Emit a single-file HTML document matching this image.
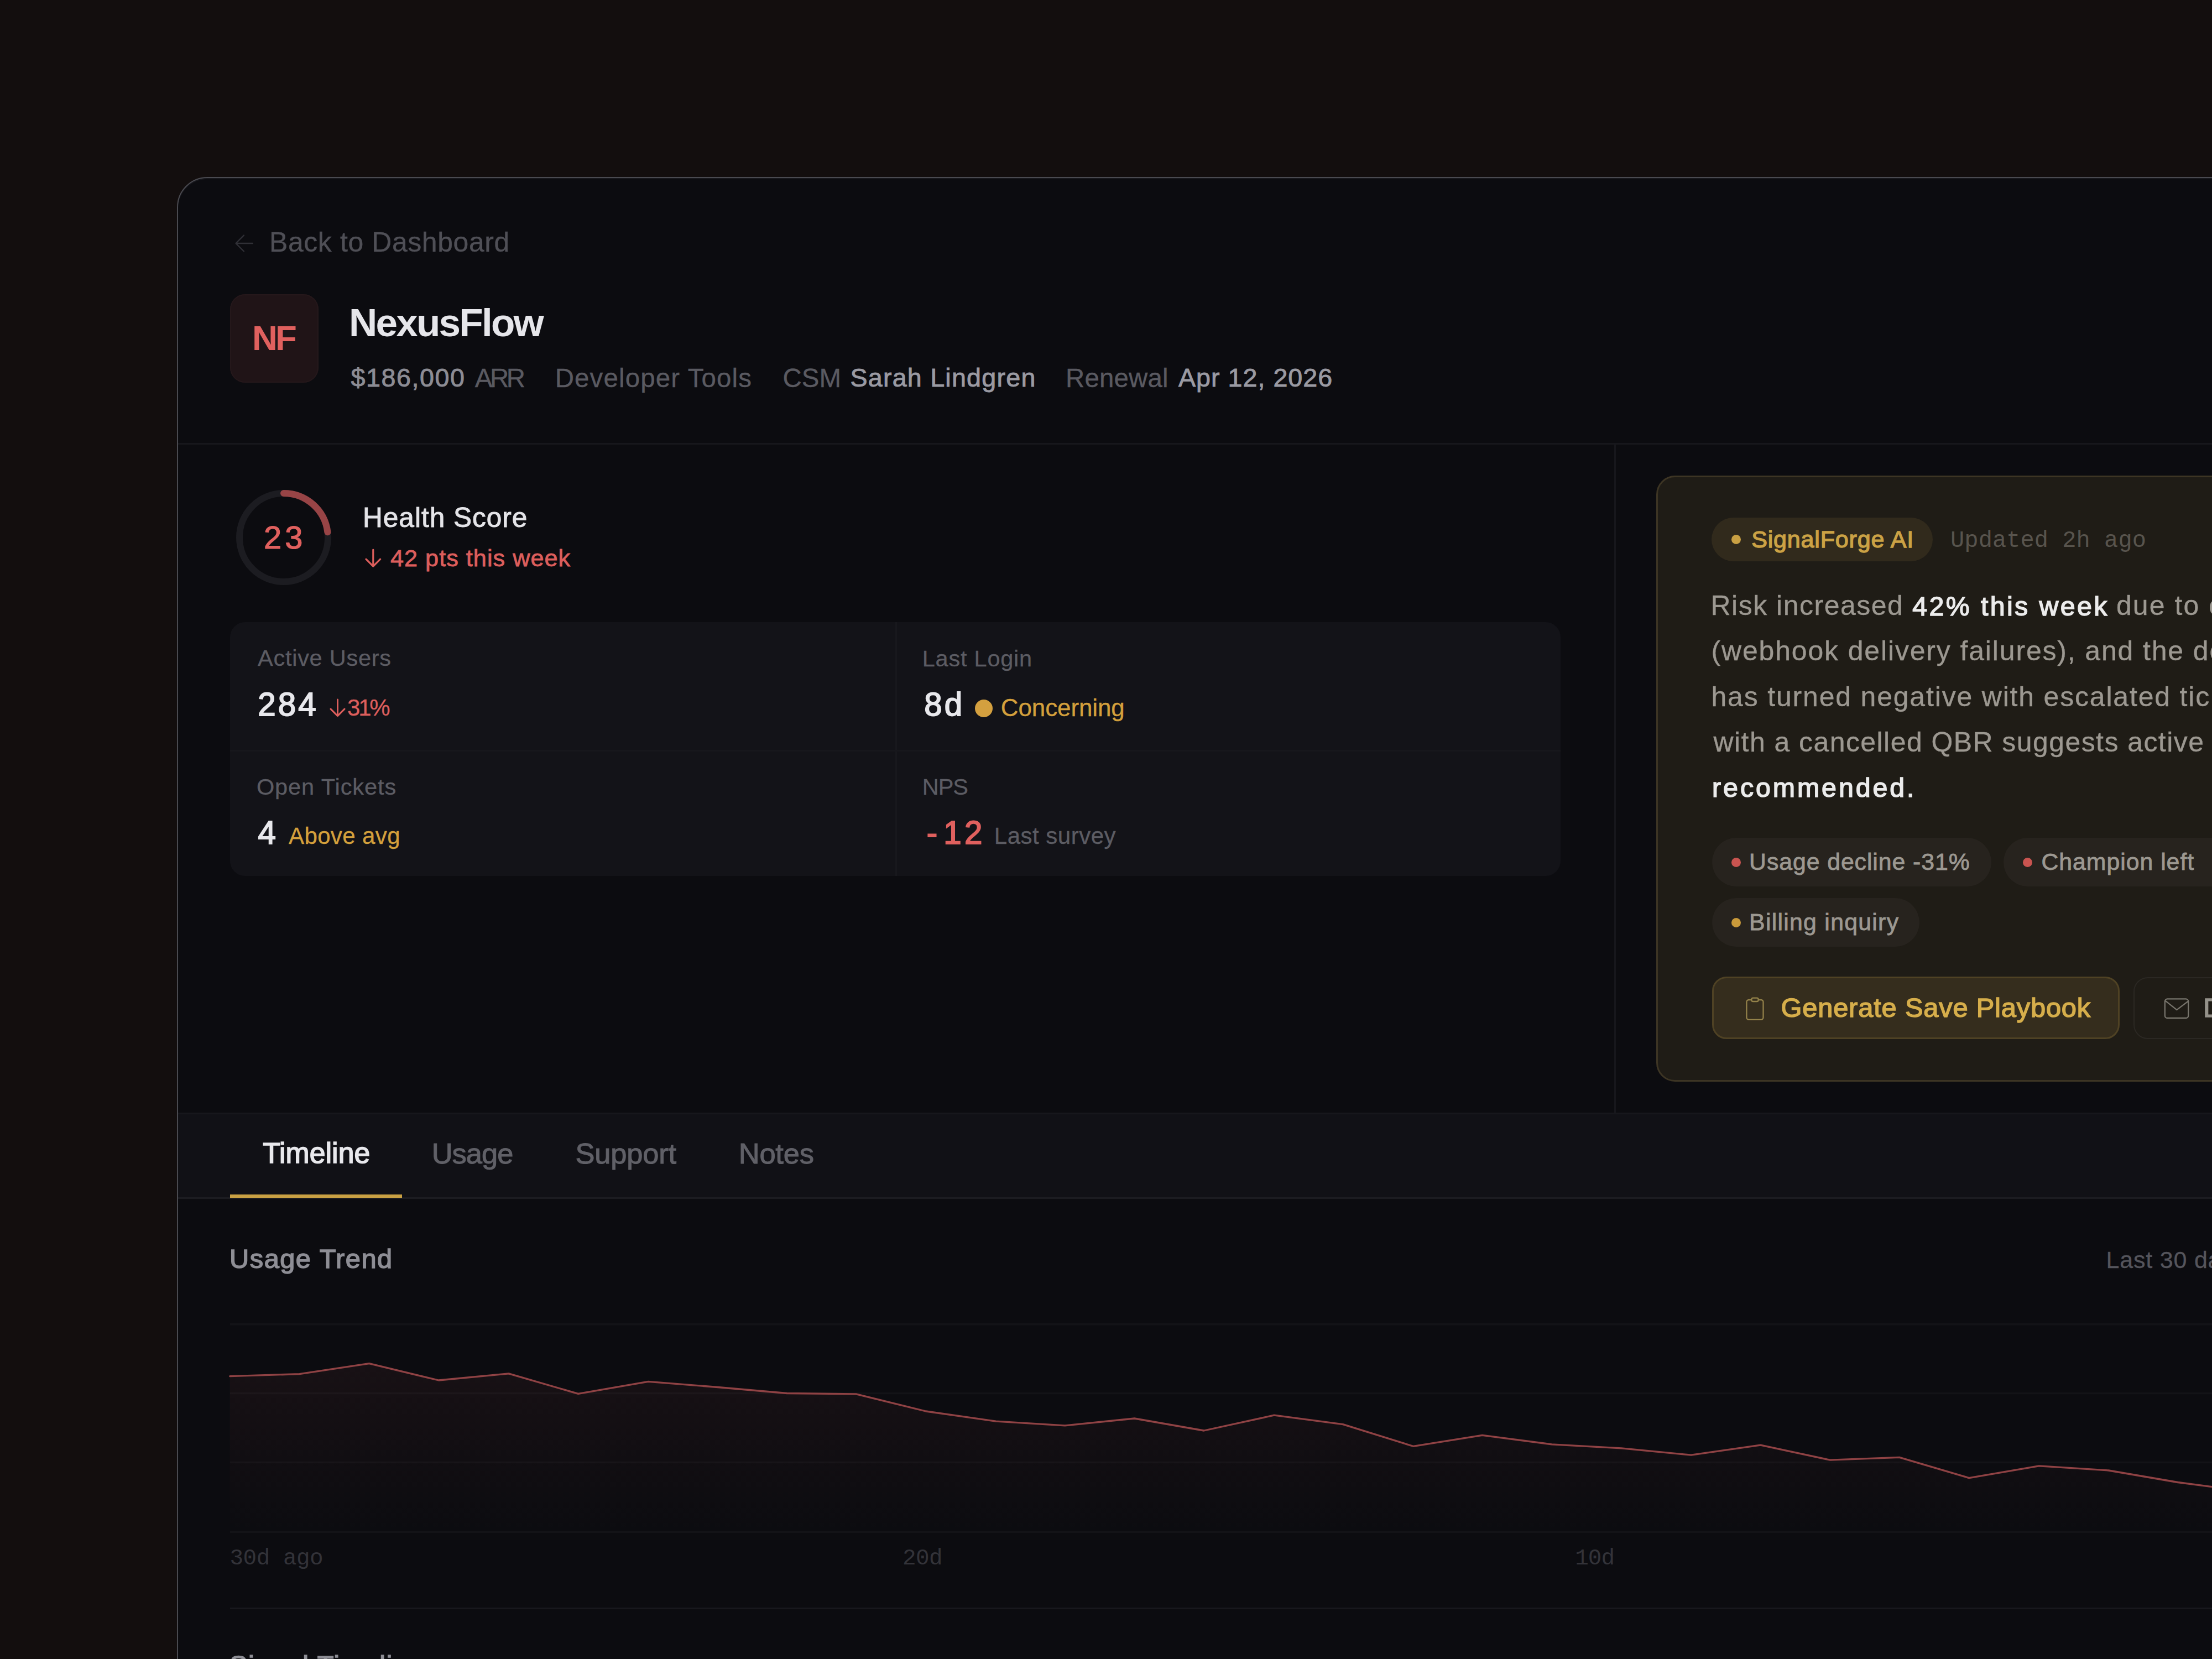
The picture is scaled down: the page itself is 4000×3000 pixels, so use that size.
<!DOCTYPE html>
<html lang="en"><head><meta charset="utf-8"><title>NexusFlow – Account Health</title>
<style>
*{margin:0;padding:0;box-sizing:border-box}
html,body{width:4000px;height:3000px;overflow:hidden}
body{background:#130e0e;font-family:'Liberation Sans',Arial,sans-serif;position:relative}
.t{position:absolute;white-space:nowrap;line-height:1}
.card{position:absolute;left:320px;top:320px;width:3800px;height:2900px;background:#0c0c10;border:2px solid #4a4a50;border-radius:55px;box-shadow:inset 0 2px 0 #17171c}
.hline{position:absolute;height:3px;background:#17171c}
.vline{position:absolute;width:3px;background:#17171c}
.pill{position:absolute;border-radius:999px}
.dot{position:absolute;border-radius:50%}
</style></head>
<body>
<div class="card"></div>
<svg style="position:absolute;left:420px;top:418px" width="44" height="44" viewBox="0 0 44 44" fill="none" stroke="#303036" stroke-width="2.3" stroke-linecap="round" stroke-linejoin="round"><path d="M37 22H7M21 7.5L6.5 22 21 36.5"/></svg>
<div class="t" id="back" style="left:487.0px;top:413.6px;font-size:49.92px;color:#4f4f56;-webkit-text-stroke:0.40px #4f4f56;letter-spacing:0.62px;">Back to Dashboard</div>
<div style="position:absolute;left:416px;top:532px;width:160px;height:160px;border-radius:27px;background:#201417;box-shadow:inset 0 0 0 2px #25181b"></div>
<div class="t" id="nf" style="left:456.1px;top:580.3px;font-size:63.5px;color:#e0605e;font-weight:700;letter-spacing:-4.00px;">NF</div>
<div class="t" id="title" style="left:631.0px;top:548.0px;font-size:71px;color:#e6e6ea;font-weight:700;letter-spacing:-2.75px;">NexusFlow</div>
<div class="t" id="m1" style="left:634.5px;top:660.1px;font-size:46.65px;color:#8c8c94;-webkit-text-stroke:0.93px #8c8c94;letter-spacing:1.57px;">$186,000</div>
<div class="t" id="m2" style="left:858.8px;top:659.7px;font-size:47.45px;color:#5a5a61;-webkit-text-stroke:0.38px #5a5a61;letter-spacing:-4.50px;">ARR</div>
<div class="t" id="m3" style="left:1003.7px;top:659.7px;font-size:47.45px;color:#5a5a61;-webkit-text-stroke:0.38px #5a5a61;letter-spacing:1.14px;">Developer Tools</div>
<div class="t" id="m4" style="left:1415.6px;top:659.7px;font-size:47.45px;color:#5a5a61;-webkit-text-stroke:0.38px #5a5a61;">CSM</div>
<div class="t" id="m5" style="left:1537.4px;top:660.1px;font-size:46.65px;color:#9a9aa2;-webkit-text-stroke:0.93px #9a9aa2;letter-spacing:1.23px;">Sarah Lindgren</div>
<div class="t" id="m6" style="left:1927.0px;top:659.7px;font-size:47.45px;color:#5a5a61;-webkit-text-stroke:0.38px #5a5a61;letter-spacing:0.16px;">Renewal</div>
<div class="t" id="m7" style="left:2131.0px;top:660.1px;font-size:46.65px;color:#9a9aa2;-webkit-text-stroke:0.93px #9a9aa2;letter-spacing:1.01px;">Apr 12, 2026</div>
<div class="hline" style="left:322px;top:801px;width:3700px"></div>
<div class="vline" style="left:2919px;top:804px;height:1209px"></div>
<svg style="position:absolute;left:423px;top:882px" width="180" height="180" viewBox="0 0 180 180"><circle cx="90" cy="90" r="80" fill="none" stroke="#1c1c21" stroke-width="12"/><circle cx="90" cy="90" r="80" fill="none" stroke="#984446" stroke-width="12" stroke-linecap="round" stroke-dasharray="115.6 502.7" transform="rotate(-90 90 90)"/></svg>
<div class="t" id="n23" style="left:477.1px;top:943.6px;font-size:57.82px;color:#e0605e;-webkit-text-stroke:1.16px #e0605e;letter-spacing:6.00px;">23</div>
<div class="t" id="hs" style="left:656.0px;top:912.0px;font-size:49.56px;color:#e4e4e8;-webkit-text-stroke:0.99px #e4e4e8;letter-spacing:1.00px;">Health Score</div>
<svg style="position:absolute;left:657.6px;top:989.5px" width="33.6" height="38.0" viewBox="0 0 33.6 38.0" fill="none" stroke="#dc5e5c" stroke-width="3.2" stroke-linecap="round" stroke-linejoin="round"><path d="M16.8 4 V34.0 M4 21.2 L16.8 34.0 L29.6 21.2"/></svg>
<div class="t" id="pts" style="left:706.0px;top:987.7px;font-size:43.25px;color:#dc5e5c;-webkit-text-stroke:0.86px #dc5e5c;letter-spacing:1.00px;">42 pts this week</div>
<div style="position:absolute;left:416px;top:1125px;width:2406px;height:459px;border-radius:27px;background:#131318;overflow:hidden"><div style="position:absolute;left:1202.5px;top:0;width:3.5px;height:459px;background:#18181d"></div><div style="position:absolute;left:0;top:230.5px;width:2406px;height:3.5px;background:#17171c"></div></div>
<div class="t" id="au" style="left:466.0px;top:1169.2px;font-size:41.52px;color:#5c5c63;-webkit-text-stroke:0.33px #5c5c63;letter-spacing:0.73px;">Active Users</div>
<div class="t" id="v284" style="left:466.3px;top:1244.8px;font-size:58.3px;color:#e8e8ec;-webkit-text-stroke:1.87px #e8e8ec;letter-spacing:4.00px;">284</div>
<svg style="position:absolute;left:593.8px;top:1260.8px" width="33.0" height="37.6" viewBox="0 0 33.0 37.6" fill="none" stroke="#dc5e5c" stroke-width="3" stroke-linecap="round" stroke-linejoin="round"><path d="M16.5 4 V33.6 M4 21.1 L16.5 33.6 L29.0 21.1"/></svg>
<div class="t" id="p31" style="left:628.1px;top:1259.0px;font-size:42.01px;color:#dc5e5c;-webkit-text-stroke:0.34px #dc5e5c;letter-spacing:-3.30px;">31%</div>
<div class="t" id="ll" style="left:1667.7px;top:1170.1px;font-size:41.52px;color:#5c5c63;-webkit-text-stroke:0.33px #5c5c63;letter-spacing:0.77px;">Last Login</div>
<div class="t" id="v8d" style="left:1671.3px;top:1244.8px;font-size:58.3px;color:#e8e8ec;-webkit-text-stroke:1.87px #e8e8ec;letter-spacing:4.00px;">8d</div>
<div class="dot" style="left:1763px;top:1265px;width:32px;height:32px;background:#d4a03f"></div>
<div class="t" id="conc" style="left:1809.8px;top:1258.4px;font-size:43.99px;color:#d4a03c;-webkit-text-stroke:0.35px #d4a03c;letter-spacing:-0.11px;">Concerning</div>
<div class="t" id="ot" style="left:463.9px;top:1401.8px;font-size:41.52px;color:#5c5c63;-webkit-text-stroke:0.33px #5c5c63;letter-spacing:0.91px;">Open Tickets</div>
<div class="t" id="v4" style="left:466.4px;top:1476.9px;font-size:58.3px;color:#e8e8ec;-webkit-text-stroke:1.87px #e8e8ec;">4</div>
<div class="t" id="abv" style="left:522.0px;top:1491.4px;font-size:42.01px;color:#d4a03c;-webkit-text-stroke:0.34px #d4a03c;letter-spacing:0.38px;">Above avg</div>
<div class="t" id="nps" style="left:1667.7px;top:1401.5px;font-size:41.52px;color:#5c5c63;-webkit-text-stroke:0.33px #5c5c63;letter-spacing:-1.00px;">NPS</div>
<div class="t" id="m12a" style="left:1675.8px;top:1476.9px;font-size:58.3px;color:#e0605e;-webkit-text-stroke:1.87px #e0605e;">-</div>
<div class="t" id="m12" style="left:1706.3px;top:1476.9px;font-size:58.3px;color:#e0605e;-webkit-text-stroke:1.87px #e0605e;letter-spacing:5.20px;">12</div>
<div class="t" id="lsv" style="left:1797.8px;top:1491.4px;font-size:42.01px;color:#5c5c63;-webkit-text-stroke:0.34px #5c5c63;letter-spacing:0.50px;">Last survey</div>
<div style="position:absolute;left:2995px;top:860px;width:1300px;height:1096px;border-radius:34px;background:#1f1c16;border:3px solid #3d3524"></div>
<div class="pill" style="left:3095px;top:936px;width:400px;height:79px;background:#312a1c"></div>
<div class="dot" style="left:3130.5px;top:966.5px;width:17px;height:17px;background:#c9a043"></div>
<div class="t" id="sf" style="left:3167.2px;top:954.0px;font-size:43.01px;color:#cba245;-webkit-text-stroke:1.38px #cba245;letter-spacing:0.84px;">SignalForge AI</div>
<div class="t" id="upd" style="left:3527.1px;top:956.8px;font-size:42px;color:#58544d;letter-spacing:0.07px;font-family:'Liberation Mono', 'DejaVu Sans Mono', monospace;">Updated 2h ago</div>
<div class="t" id="p1a" style="left:3093.5px;top:1070.8px;font-size:49.92px;color:#9c9891;-webkit-text-stroke:0.40px #9c9891;letter-spacing:1.54px;">Risk increased</div>
<div class="t" id="p1b" style="left:3458.3px;top:1071.6px;font-size:48.26px;color:#ececec;-webkit-text-stroke:1.54px #ececec;letter-spacing:3.41px;">42% this week</div>
<div class="t" id="p1c" style="left:3826.9px;top:1070.8px;font-size:49.92px;color:#9c9891;-webkit-text-stroke:0.40px #9c9891;letter-spacing:2.12px;"><span id="p1cs">due to</span> critical support escalations</div>
<div class="t" id="p2" style="left:3094.5px;top:1153.2px;font-size:49.92px;color:#9c9891;-webkit-text-stroke:0.40px #9c9891;letter-spacing:1.88px;"><span id="p2s">(webhook delivery failures), and the</span> departure of your executive sponsor. Sentiment</div>
<div class="t" id="p3" style="left:3094.5px;top:1235.6px;font-size:49.92px;color:#9c9891;-webkit-text-stroke:0.40px #9c9891;letter-spacing:1.85px;"><span id="p3s">has turned negative with escalated</span> tickets and slow responses. Combined</div>
<div class="t" id="p4" style="left:3098.5px;top:1317.5px;font-size:49.92px;color:#9c9891;-webkit-text-stroke:0.40px #9c9891;letter-spacing:1.47px;"><span id="p4s">with a cancelled QBR suggests active</span> evaluation of competitors. Outreach</div>
<div class="t" id="p5" style="left:3096.1px;top:1400.2px;font-size:48.26px;color:#ececec;-webkit-text-stroke:1.54px #ececec;letter-spacing:3.96px;">recommended.</div>
<div class="pill" style="left:3096px;top:1515px;width:505px;height:88px;background:#27231e"></div>
<div class="dot" style="left:3131px;top:1551px;width:17px;height:17px;background:#c95450"></div>
<div class="t" id="tg1" style="left:3163.1px;top:1536.6px;font-size:42.76px;color:#9c9891;-webkit-text-stroke:0.86px #9c9891;letter-spacing:0.94px;">Usage decline -31%</div>
<div class="pill" style="left:3623px;top:1515px;width:520px;height:88px;background:#27231e"></div>
<div class="dot" style="left:3658px;top:1551px;width:17px;height:17px;background:#c95450"></div>
<div class="t" id="tg2" style="left:3691.4px;top:1536.6px;font-size:42.76px;color:#9c9891;-webkit-text-stroke:0.86px #9c9891;letter-spacing:1.00px;">Champion left</div>
<div class="pill" style="left:3096px;top:1624px;width:375px;height:88px;background:#27231e"></div>
<div class="dot" style="left:3131px;top:1660px;width:17px;height:17px;background:#c99a3a"></div>
<div class="t" id="tg3" style="left:3163.1px;top:1645.6px;font-size:42.76px;color:#9c9891;-webkit-text-stroke:0.86px #9c9891;letter-spacing:1.29px;">Billing inquiry</div>
<div style="position:absolute;left:3096px;top:1766px;width:737px;height:113px;border-radius:26px;background:#352d1d;border:3px solid #4f4224"></div>
<svg style="position:absolute;left:3150px;top:1798px" width="46" height="50" viewBox="0 0 46 50" fill="none" stroke="#94824a" stroke-width="2.3" stroke-linejoin="round"><rect x="8.4" y="10" width="30.1" height="35.8" rx="4"/><rect x="17.4" y="6.6" width="12.2" height="6.4" rx="2.6" fill="#352d1d"/></svg>
<div class="t" id="gen" style="left:3220.5px;top:1797.8px;font-size:48.74px;color:#d6ae4b;-webkit-text-stroke:1.56px #d6ae4b;letter-spacing:0.85px;">Generate Save Playbook</div>
<div style="position:absolute;left:3858px;top:1767px;width:700px;height:112px;border-radius:26px;background:#1f1c16;border:2.5px solid #2b2823"></div>
<svg style="position:absolute;left:3908px;top:1798px" width="56" height="50" viewBox="0 0 56 50" fill="none" stroke="#77746c" stroke-width="2.3" stroke-linejoin="round" stroke-linecap="round"><rect x="6.8" y="8.4" width="42.4" height="34.6" rx="4.5"/><path d="M7.5 11.7L28.3 28.2 49.1 12.4"/></svg>
<div class="t" id="draft" style="left:3984.1px;top:1797.8px;font-size:48.74px;color:#94918a;-webkit-text-stroke:1.56px #94918a;">Draft Outreach Email</div>
<div style="position:absolute;left:322px;top:2012px;width:3700px;height:156px;background:#111116;border-top:3px solid #17171c;border-bottom:3px solid #1c1c21"></div>
<div style="position:absolute;left:416px;top:2159.5px;width:311px;height:6px;background:#c9a043"></div>
<div class="t" id="tab1" style="left:475.2px;top:2060.4px;font-size:51.61px;color:#e8e8ec;-webkit-text-stroke:1.65px #e8e8ec;letter-spacing:0.14px;">Timeline</div>
<div class="t" id="tab2" style="left:780.7px;top:2059.9px;font-size:52.48px;color:#606067;-webkit-text-stroke:1.05px #606067;letter-spacing:-1.00px;">Usage</div>
<div class="t" id="tab3" style="left:1040.4px;top:2059.9px;font-size:52.48px;color:#606067;-webkit-text-stroke:1.05px #606067;letter-spacing:-0.16px;">Support</div>
<div class="t" id="tab4" style="left:1335.8px;top:2059.9px;font-size:52.48px;color:#606067;-webkit-text-stroke:1.05px #606067;letter-spacing:-0.25px;">Notes</div>
<div class="t" id="ut" style="left:415.1px;top:2252.0px;font-size:48.74px;color:#8e8e95;-webkit-text-stroke:1.56px #8e8e95;letter-spacing:1.50px;">Usage Trend</div>
<div class="t" id="l30" style="left:3808.5px;top:2257.2px;font-size:43.0px;color:#55555c;-webkit-text-stroke:0.34px #55555c;letter-spacing:0.80px;">Last 30 days</div>
<svg style="position:absolute;left:400px;top:2380px" width="3600" height="420" viewBox="0 0 3600 420"><defs><linearGradient id="fg" x1="0" y1="0" x2="0" y2="1"><stop offset="0" stop-color="#9a4446" stop-opacity="0.085"/><stop offset="1" stop-color="#9a4446" stop-opacity="0"/></linearGradient></defs><line x1="16" x2="3700" y1="14.699999999999818" y2="14.699999999999818" stroke="#ffffff" stroke-opacity="0.032" stroke-width="3.4"/><line x1="16" x2="3700" y1="139.5" y2="139.5" stroke="#ffffff" stroke-opacity="0.032" stroke-width="3.4"/><line x1="16" x2="3700" y1="264.5" y2="264.5" stroke="#ffffff" stroke-opacity="0.032" stroke-width="3.4"/><line x1="16" x2="3700" y1="390.5" y2="390.5" stroke="#ffffff" stroke-opacity="0.032" stroke-width="3.4"/><polygon points="15.8,108.7 141.5,104.7 267.6,85.7 393.3,116.0 519.9,103.8 645.6,140.4 772.2,118.3 898.0,128.5 1023.0,139.5 1148.0,140.9 1274.3,172.0 1400.9,190.2 1525.8,197.8 1651.5,185.0 1777.0,207.0 1904.0,179.2 2028.4,195.6 2155.5,235.3 2280.4,215.4 2406.0,231.8 2532.0,238.8 2658.0,251.2 2783.6,233.2 2909.5,260.2 3034.7,255.4 3160.6,292.6 3287.2,270.8 3413.0,279.0 3538.2,300.5 3666.9,317.5 3666.9,389 15.8,389" fill="url(#fg)"/><polyline points="15.8,108.7 141.5,104.7 267.6,85.7 393.3,116.0 519.9,103.8 645.6,140.4 772.2,118.3 898.0,128.5 1023.0,139.5 1148.0,140.9 1274.3,172.0 1400.9,190.2 1525.8,197.8 1651.5,185.0 1777.0,207.0 1904.0,179.2 2028.4,195.6 2155.5,235.3 2280.4,215.4 2406.0,231.8 2532.0,238.8 2658.0,251.2 2783.6,233.2 2909.5,260.2 3034.7,255.4 3160.6,292.6 3287.2,270.8 3413.0,279.0 3538.2,300.5 3666.9,317.5" fill="none" stroke="#8f4244" stroke-width="3.3" stroke-linejoin="round" stroke-linecap="round"/></svg>
<div class="t" id="x30" style="left:415.5px;top:2797.6px;font-size:41px;color:#333339;letter-spacing:-0.50px;font-family:'Liberation Mono', 'DejaVu Sans Mono', monospace;">30d ago</div>
<div class="t" id="x20" style="left:1631.9px;top:2797.6px;font-size:41px;color:#333339;letter-spacing:-0.50px;font-family:'Liberation Mono', 'DejaVu Sans Mono', monospace;">20d</div>
<div class="t" id="x10" style="left:2848.2px;top:2797.6px;font-size:41px;color:#333339;letter-spacing:-1.00px;font-family:'Liberation Mono', 'DejaVu Sans Mono', monospace;">10d</div>
<div style="position:absolute;left:416px;top:2907px;width:3700px;height:3px;background:#18181d"></div>
<div class="t" id="sig" style="left:415.1px;top:2987.0px;font-size:48.74px;color:#8e8e95;-webkit-text-stroke:1.56px #8e8e95;letter-spacing:1.50px;">Signal Timeline</div>
</body></html>
